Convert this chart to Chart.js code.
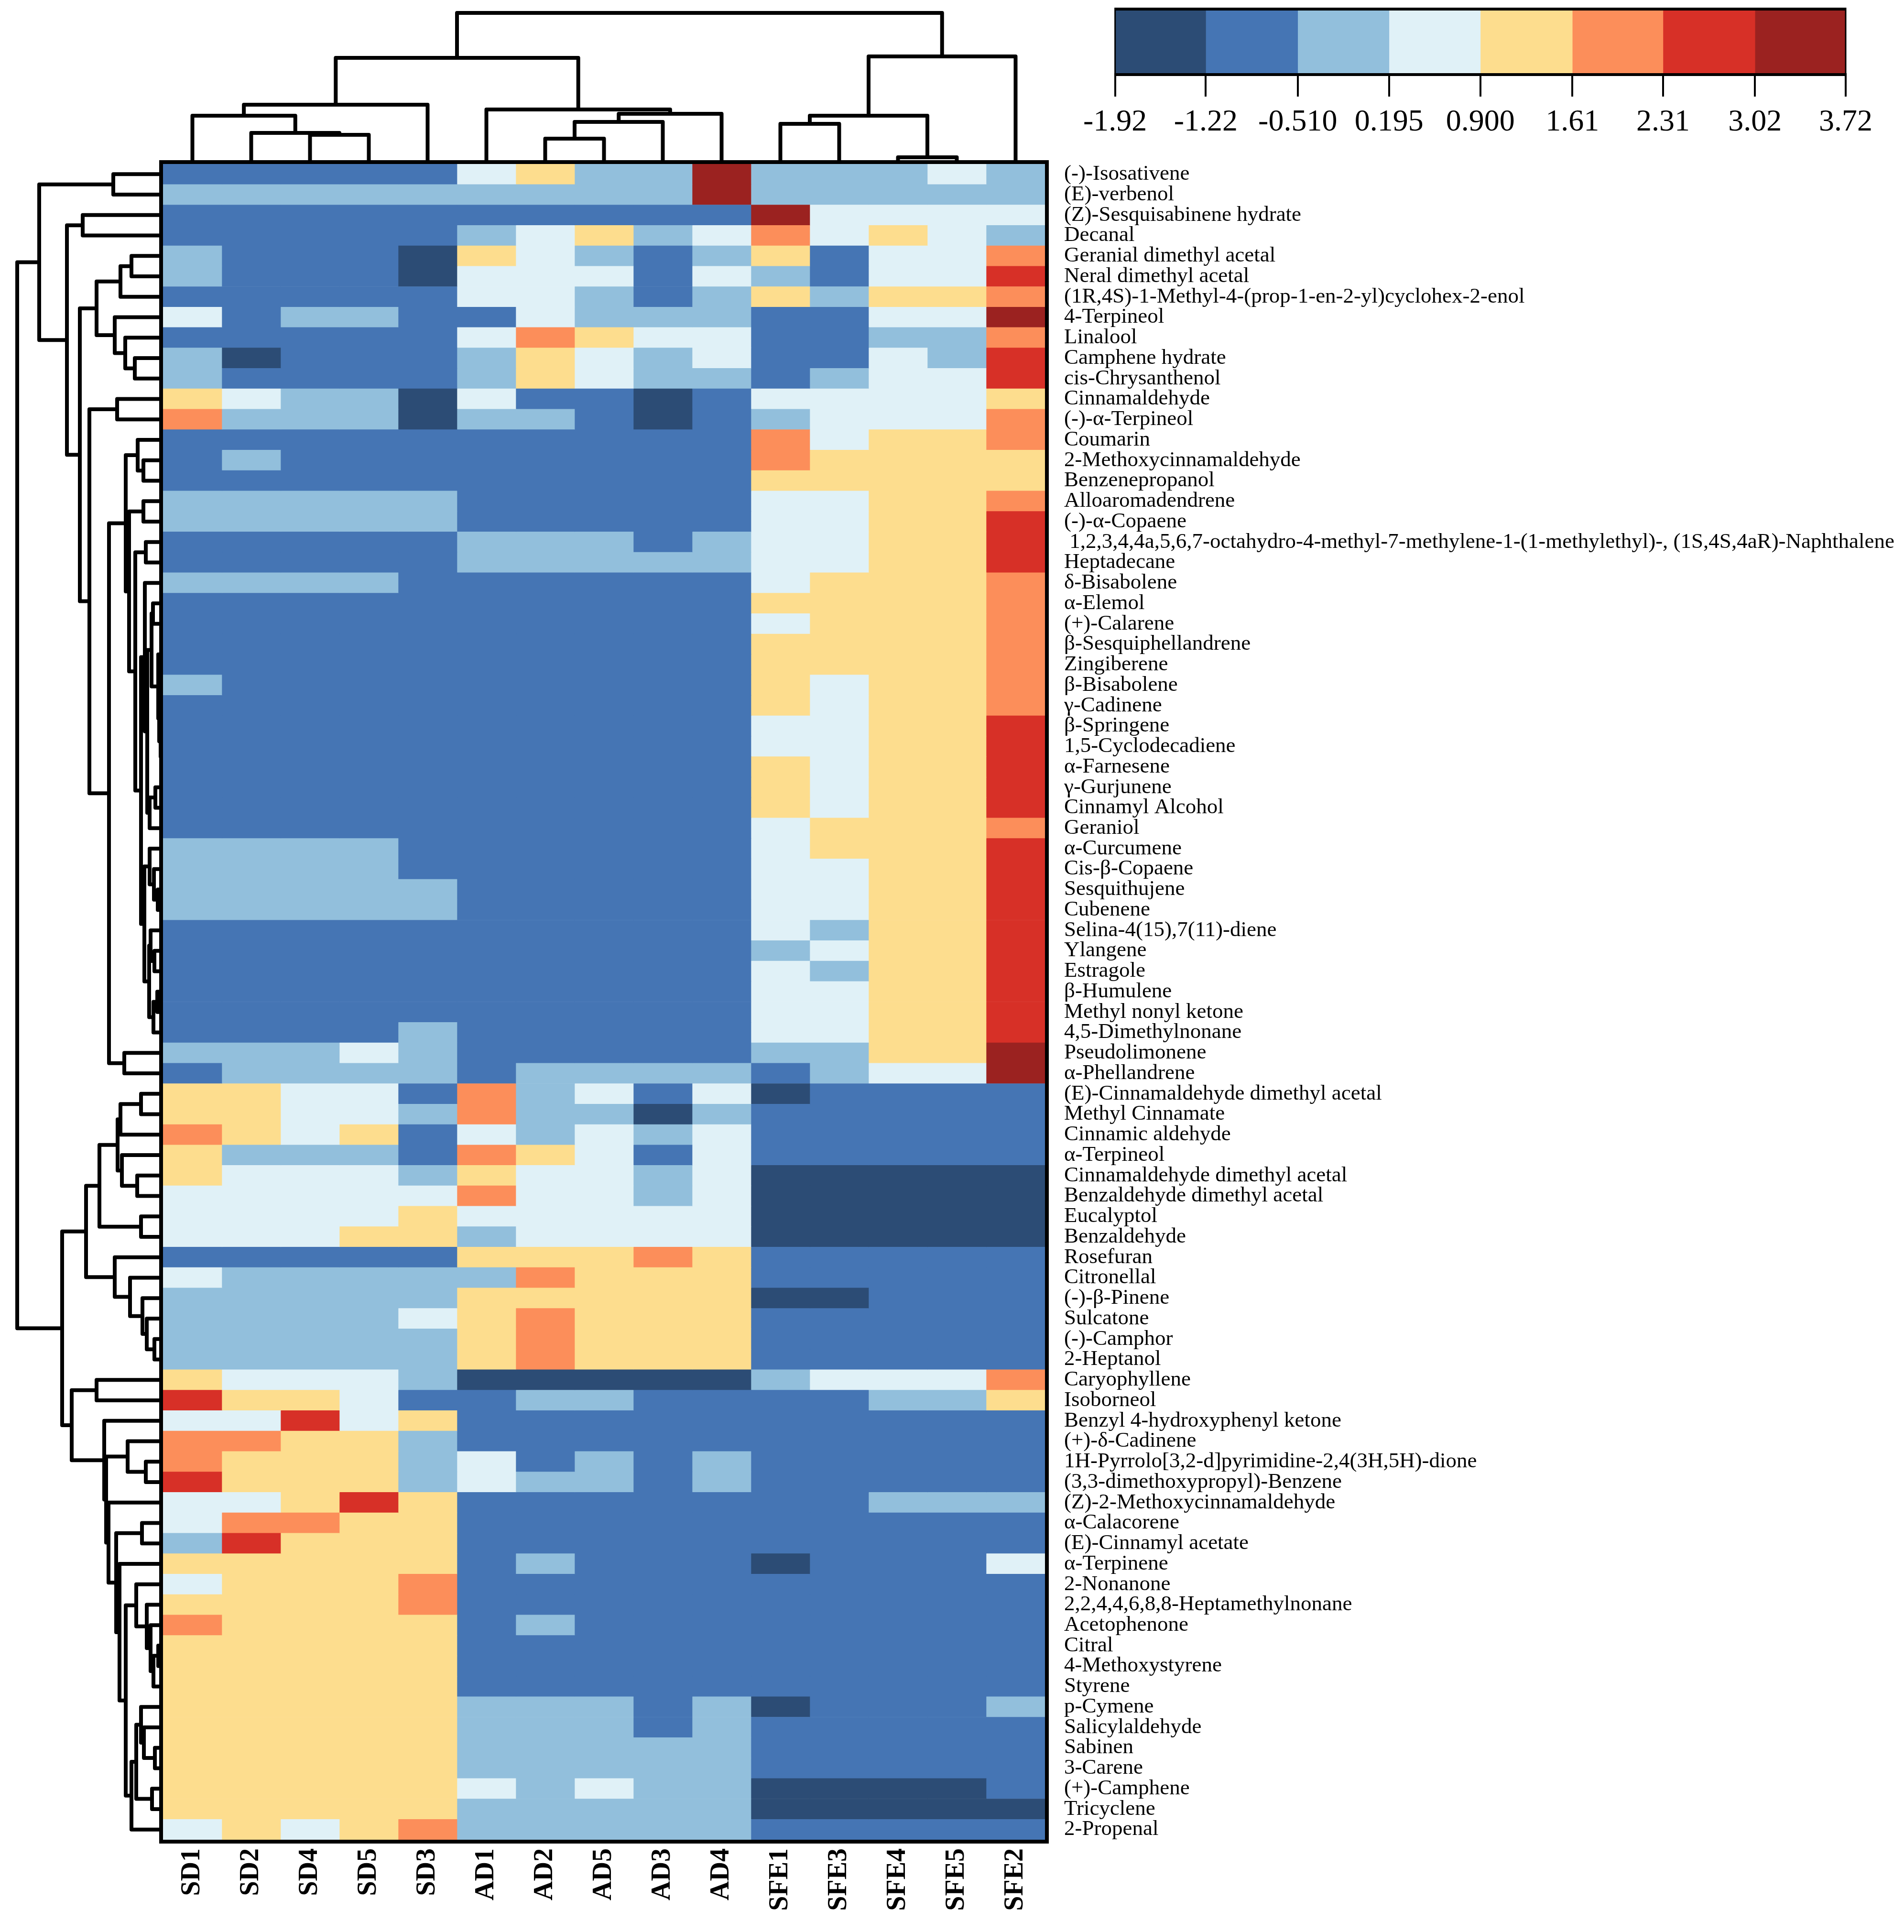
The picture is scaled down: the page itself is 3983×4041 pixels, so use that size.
<!DOCTYPE html>
<html>
<head>
<meta charset="utf-8">
<script src="https://cdn.jsdelivr.net/npm/chart.js@4/dist/chart.umd.min.js"></script>
<style>
  html, body { margin: 0; padding: 0; background: #fff; }
  body { width: 3983px; height: 4041px; position: relative; overflow: hidden; }
  canvas { position: absolute; }
</style>
</head>
<body>
<canvas id="rowTree" width="441" height="3705" style="left:0;top:243px"></canvas>
<canvas id="colTree" width="2045" height="443" style="left:241px;top:0"></canvas>
<canvas id="heat" width="3742" height="3798" style="left:241px;top:243px"></canvas>
<canvas id="key" width="1733" height="420" style="left:2250px;top:0"></canvas>
<script>
var samples = ['SD1', 'SD2', 'SD4', 'SD5', 'SD3', 'AD1', 'AD2', 'AD5', 'AD3', 'AD4',
               'SFE1', 'SFE3', 'SFE4', 'SFE5', 'SFE2'];

var compounds = [
  '(-)-Isosativene', '(E)-verbenol', '(Z)-Sesquisabinene hydrate', 'Decanal',
  'Geranial dimethyl acetal', 'Neral dimethyl acetal',
  '(1R,4S)-1-Methyl-4-(prop-1-en-2-yl)cyclohex-2-enol', '4-Terpineol', 'Linalool',
  'Camphene hydrate', 'cis-Chrysanthenol', 'Cinnamaldehyde', '(-)-α-Terpineol', 'Coumarin',
  '2-Methoxycinnamaldehyde', 'Benzenepropanol', 'Alloaromadendrene', '(-)-α-Copaene',
  ' 1,2,3,4,4a,5,6,7-octahydro-4-methyl-7-methylene-1-(1-methylethyl)-, (1S,4S,4aR)-Naphthalene',
  'Heptadecane', 'δ-Bisabolene', 'α-Elemol', '(+)-Calarene', 'β-Sesquiphellandrene',
  'Zingiberene', 'β-Bisabolene', 'γ-Cadinene', 'β-Springene', '1,5-Cyclodecadiene',
  'α-Farnesene', 'γ-Gurjunene', 'Cinnamyl Alcohol', 'Geraniol', 'α-Curcumene',
  'Cis-β-Copaene', 'Sesquithujene', 'Cubenene', 'Selina-4(15),7(11)-diene', 'Ylangene',
  'Estragole', 'β-Humulene', 'Methyl nonyl ketone', '4,5-Dimethylnonane', 'Pseudolimonene',
  'α-Phellandrene', '(E)-Cinnamaldehyde dimethyl acetal', 'Methyl Cinnamate',
  'Cinnamic aldehyde', 'α-Terpineol', 'Cinnamaldehyde dimethyl acetal',
  'Benzaldehyde dimethyl acetal', 'Eucalyptol', 'Benzaldehyde', 'Rosefuran', 'Citronellal',
  '(-)-β-Pinene', 'Sulcatone', '(-)-Camphor', '2-Heptanol', 'Caryophyllene', 'Isoborneol',
  'Benzyl 4-hydroxyphenyl ketone', '(+)-δ-Cadinene',
  '1H-Pyrrolo[3,2-d]pyrimidine-2,4(3H,5H)-dione', '(3,3-dimethoxypropyl)-Benzene',
  '(Z)-2-Methoxycinnamaldehyde', 'α-Calacorene', '(E)-Cinnamyl acetate', 'α-Terpinene',
  '2-Nonanone', '2,2,4,4,6,8,8-Heptamethylnonane', 'Acetophenone', 'Citral',
  '4-Methoxystyrene', 'Styrene', 'p-Cymene', 'Salicylaldehyde', 'Sabinen', '3-Carene',
  '(+)-Camphene', 'Tricyclene', '2-Propenal'
];

// colour key
var breaks = [-1.92, -1.22, -0.51, 0.195, 0.9, 1.61, 2.31, 3.02, 3.72];
var breakLabels = ['-1.92', '-1.22', '-0.510', '0.195', '0.900', '1.61', '2.31', '3.02', '3.72'];
var palette = ['#2c4c75', '#4575b4', '#92bfdc', '#e0f1f7', '#fddd8e', '#fc8e5a', '#d73027', '#9b2220'];

// class of every cell (index into palette / interval between breaks)
// one row per compound, columns in the order of samples
var cells = [
  [1,1,1,1,1, 3,4,2,2,7, 2,2,2,3,2],
  [2,2,2,2,2, 2,2,2,2,7, 2,2,2,2,2],
  [1,1,1,1,1, 1,1,1,1,1, 7,3,3,3,3],
  [1,1,1,1,1, 2,3,4,2,3, 5,3,4,3,2],
  [2,1,1,1,0, 4,3,2,1,2, 4,1,3,3,5],
  [2,1,1,1,0, 3,3,3,1,3, 2,1,3,3,6],
  [1,1,1,1,1, 3,3,2,1,2, 4,2,4,4,5],
  [3,1,2,2,1, 1,3,2,2,2, 1,1,3,3,7],
  [1,1,1,1,1, 3,5,4,3,3, 1,1,2,2,5],
  [2,0,1,1,1, 2,4,3,2,3, 1,1,3,2,6],
  [2,1,1,1,1, 2,4,3,2,2, 1,2,3,3,6],
  [4,3,2,2,0, 3,1,1,0,1, 3,3,3,3,4],
  [5,2,2,2,0, 2,2,1,0,1, 2,3,3,3,5],
  [1,1,1,1,1, 1,1,1,1,1, 5,3,4,4,5],
  [1,2,1,1,1, 1,1,1,1,1, 5,4,4,4,4],
  [1,1,1,1,1, 1,1,1,1,1, 4,4,4,4,4],
  [2,2,2,2,2, 1,1,1,1,1, 3,3,4,4,5],
  [2,2,2,2,2, 1,1,1,1,1, 3,3,4,4,6],
  [1,1,1,1,1, 2,2,2,1,2, 3,3,4,4,6],
  [1,1,1,1,1, 2,2,2,2,2, 3,3,4,4,6],
  [2,2,2,2,1, 1,1,1,1,1, 3,4,4,4,5],
  [1,1,1,1,1, 1,1,1,1,1, 4,4,4,4,5],
  [1,1,1,1,1, 1,1,1,1,1, 3,4,4,4,5],
  [1,1,1,1,1, 1,1,1,1,1, 4,4,4,4,5],
  [1,1,1,1,1, 1,1,1,1,1, 4,4,4,4,5],
  [2,1,1,1,1, 1,1,1,1,1, 4,3,4,4,5],
  [1,1,1,1,1, 1,1,1,1,1, 4,3,4,4,5],
  [1,1,1,1,1, 1,1,1,1,1, 3,3,4,4,6],
  [1,1,1,1,1, 1,1,1,1,1, 3,3,4,4,6],
  [1,1,1,1,1, 1,1,1,1,1, 4,3,4,4,6],
  [1,1,1,1,1, 1,1,1,1,1, 4,3,4,4,6],
  [1,1,1,1,1, 1,1,1,1,1, 4,3,4,4,6],
  [1,1,1,1,1, 1,1,1,1,1, 3,4,4,4,5],
  [2,2,2,2,1, 1,1,1,1,1, 3,4,4,4,6],
  [2,2,2,2,1, 1,1,1,1,1, 3,3,4,4,6],
  [2,2,2,2,2, 1,1,1,1,1, 3,3,4,4,6],
  [2,2,2,2,2, 1,1,1,1,1, 3,3,4,4,6],
  [1,1,1,1,1, 1,1,1,1,1, 3,2,4,4,6],
  [1,1,1,1,1, 1,1,1,1,1, 2,3,4,4,6],
  [1,1,1,1,1, 1,1,1,1,1, 3,2,4,4,6],
  [1,1,1,1,1, 1,1,1,1,1, 3,3,4,4,6],
  [1,1,1,1,1, 1,1,1,1,1, 3,3,4,4,6],
  [1,1,1,1,2, 1,1,1,1,1, 3,3,4,4,6],
  [2,2,2,3,2, 1,1,1,1,1, 2,2,4,4,7],
  [1,2,2,2,2, 1,2,2,2,2, 1,2,3,3,7],
  [4,4,3,3,1, 5,2,3,1,3, 0,1,1,1,1],
  [4,4,3,3,2, 5,2,2,0,2, 1,1,1,1,1],
  [5,4,3,4,1, 3,2,3,2,3, 1,1,1,1,1],
  [4,2,2,2,1, 5,4,3,1,3, 1,1,1,1,1],
  [4,3,3,3,2, 4,3,3,2,3, 0,0,0,0,0],
  [3,3,3,3,3, 5,3,3,2,3, 0,0,0,0,0],
  [3,3,3,3,4, 3,3,3,3,3, 0,0,0,0,0],
  [3,3,3,4,4, 2,3,3,3,3, 0,0,0,0,0],
  [1,1,1,1,1, 4,4,4,5,4, 1,1,1,1,1],
  [3,2,2,2,2, 2,5,4,4,4, 1,1,1,1,1],
  [2,2,2,2,2, 4,4,4,4,4, 0,0,1,1,1],
  [2,2,2,2,3, 4,5,4,4,4, 1,1,1,1,1],
  [2,2,2,2,2, 4,5,4,4,4, 1,1,1,1,1],
  [2,2,2,2,2, 4,5,4,4,4, 1,1,1,1,1],
  [4,3,3,3,2, 0,0,0,0,0, 2,3,3,3,5],
  [6,4,4,3,1, 1,2,2,1,1, 1,1,2,2,4],
  [3,3,6,3,4, 1,1,1,1,1, 1,1,1,1,1],
  [5,5,4,4,2, 1,1,1,1,1, 1,1,1,1,1],
  [5,4,4,4,2, 3,1,2,1,2, 1,1,1,1,1],
  [6,4,4,4,2, 3,2,2,1,2, 1,1,1,1,1],
  [3,3,4,6,4, 1,1,1,1,1, 1,1,2,2,2],
  [3,5,5,4,4, 1,1,1,1,1, 1,1,1,1,1],
  [2,6,4,4,4, 1,1,1,1,1, 1,1,1,1,1],
  [4,4,4,4,4, 1,2,1,1,1, 0,1,1,1,3],
  [3,4,4,4,5, 1,1,1,1,1, 1,1,1,1,1],
  [4,4,4,4,5, 1,1,1,1,1, 1,1,1,1,1],
  [5,4,4,4,4, 1,2,1,1,1, 1,1,1,1,1],
  [4,4,4,4,4, 1,1,1,1,1, 1,1,1,1,1],
  [4,4,4,4,4, 1,1,1,1,1, 1,1,1,1,1],
  [4,4,4,4,4, 1,1,1,1,1, 1,1,1,1,1],
  [4,4,4,4,4, 2,2,2,1,2, 0,1,1,1,2],
  [4,4,4,4,4, 2,2,2,1,2, 1,1,1,1,1],
  [4,4,4,4,4, 2,2,2,2,2, 1,1,1,1,1],
  [4,4,4,4,4, 2,2,2,2,2, 1,1,1,1,1],
  [4,4,4,4,4, 3,2,3,2,2, 0,0,0,0,1],
  [4,4,4,4,4, 2,2,2,2,2, 0,0,0,0,0],
  [3,4,3,4,5, 2,2,2,2,2, 1,1,1,1,1]
];

// dendrograms: [left, right, merge height]; a plain number is a leaf (index in display order)
var sampleTree = [
  [[[0, [1, [2, 3, 61], 65], 101], 4, 124], [5, [[[6, 7, 53], 8, 88], 9, 105], 114], 222],
  [[[10, 11, 84], [12, 13, 14], 101], 14, 225],
  316];

var rowsQa = [20, [[[21, 22, 21], [[23, 24, 4], [[25, 26, 6], [27, [28, 29, 3], 5], 8], 10], 24],
                   [[30, 31, 16], 32, 28], 33], 38];
var rowsQb = [[33, [34, [35, 36, 11], 19], 28], [[37, [38, 39, 18], 26], [[40, 41, 12], 42, 20], 29], 39];
var rowsG  = [[[4, 5, 66], 6, 89], [7, [8, [9, 10, 59], 79], 101], 139];
var rowsU  = [[13, [14, 15, 41], 53], [[16, 17, 41], [[18, 19, 36], [rowsQa, rowsQb, 46], 58], 71], 78];
var rowsTop = [[0, 1, 104], [[2, 3, 168], [rowsG, [[11, 12, 96], [rowsU, [43, 44, 81], 113], 154], 174], 201], 259];
var rowsP1 = [[[[45, 46, 46], 47, 89], [48, [49, 50, 54], 86], 95], [51, 52, 46], 133];
var rowsP2 = [53, [54, [55, [56, [57, 58, 18], 34], 43], 69], 101];
var rowsC1 = [69, [70, [71, [[72, 73, 10], 74, 20], 26], 34], 56];
var rowsC2 = [[[75, [76, [77, 78, 17], 40], 46], [79, 80, 23], 56], 81, 66];
var rowsO  = [[59, 60, 139], [61, [[62, [63, 64, 36], 74], [65, [[66, 67, 44], [68, [rowsC1, rowsC2, 78], 91], 98], 114], 119], 123], 191];
var compoundTree = [rowsTop, [[rowsP1, rowsP2, 161], rowsO, 211], 305];

var serif = "'Liberation Serif', 'Times New Roman', serif";

function treeLinks(node, out) {
  if (typeof node === 'number') return { pos: node + 0.5, h: 0 };
  var a = treeLinks(node[0], out);
  var b = treeLinks(node[1], out);
  var h = node[2];
  out.push([[a.pos, a.h], [a.pos, h], [b.pos, h], [b.pos, b.h]]);
  return { pos: (a.pos + b.pos) / 2, h: h };
}

function linkSets(node, sideways) {
  var links = [];
  treeLinks(node, links);
  return links.map(function (l) {
    return {
      data: l.map(function (p) { return sideways ? { x: p[1], y: p[0] } : { x: p[0], y: p[1] }; }),
      showLine: true,
      borderColor: '#000',
      borderWidth: 8,
      borderJoinStyle: 'round',
      borderCapStyle: 'round',
      pointRadius: 0,
      clip: false
    };
  });
}

var quiet = { legend: { display: false }, tooltip: { enabled: false } };

// column dendrogram
new Chart(document.getElementById('colTree'), {
  type: 'scatter',
  data: { datasets: linkSets(sampleTree, false) },
  options: {
    responsive: false, animation: false, devicePixelRatio: 1,
    layout: { padding: { left: 100, right: 100, top: 13, bottom: 100 } },
    plugins: quiet,
    scales: {
      x: { type: 'linear', min: 0, max: samples.length, display: false },
      y: { type: 'linear', min: 0, max: 330, display: false }
    }
  }
});

// row dendrogram
new Chart(document.getElementById('rowTree'), {
  type: 'scatter',
  data: { datasets: linkSets(compoundTree, true) },
  options: {
    responsive: false, animation: false, devicePixelRatio: 1,
    layout: { padding: { left: 21, right: 100, top: 100, bottom: 100 } },
    plugins: quiet,
    scales: {
      x: { type: 'linear', min: 0, max: 320, reverse: true, display: false },
      y: { type: 'linear', min: 0, max: compounds.length, reverse: true, display: false }
    }
  }
});

var heatFrame = {
  id: 'heatFrame',
  afterDatasetsDraw: function (chart) {
    var a = chart.chartArea, c = chart.ctx;
    c.save();
    c.strokeStyle = '#000';
    c.lineWidth = 8;
    c.strokeRect(a.left - 4, a.top - 4, a.right - a.left + 8, a.bottom - a.top + 8);
    c.restore();
  }
};

// heatmap: one stacked bar per sample, one row per compound
new Chart(document.getElementById('heat'), {
  type: 'bar',
  data: {
    labels: compounds,
    datasets: samples.map(function (s, j) {
      return {
        label: s,
        data: compounds.map(function () { return 1; }),
        backgroundColor: cells.map(function (row) { return palette[row[j]]; }),
        borderWidth: 0,
        barPercentage: 1,
        categoryPercentage: 1
      };
    })
  },
  options: {
    indexAxis: 'y',
    responsive: false, animation: false, devicePixelRatio: 1,
    layout: { padding: { left: 100, top: 100, right: 0, bottom: 0 } },
    plugins: quiet,
    scales: {
      x: {
        type: 'linear', stacked: true, min: 0, max: samples.length, position: 'bottom',
        grid: { display: false, drawTicks: false }, border: { display: false },
        afterBuildTicks: function (sc) {
          sc.ticks = samples.map(function (s, i) { return { value: i + 0.5 }; });
        },
        afterFit: function (sc) { sc.height = 193; },
        ticks: {
          autoSkip: false, minRotation: 90, maxRotation: 90, padding: 18, color: '#000',
          font: { family: serif, size: 56, weight: 'bold' },
          callback: function (v, i) { return samples[i]; }
        }
      },
      y: {
        type: 'category', stacked: true, position: 'right',
        grid: { display: false, drawTicks: false }, border: { display: false },
        afterFit: function (sc) { sc.width = 1797; },
        ticks: { autoSkip: false, padding: 40, color: '#000', font: { family: serif, size: 45 } }
      }
    }
  },
  plugins: [heatFrame]
});

var keyFrame = {
  id: 'keyFrame',
  afterDatasetsDraw: function (chart) {
    var a = chart.chartArea, c = chart.ctx;
    c.save();
    c.strokeStyle = '#000';
    c.lineWidth = 6;
    c.beginPath();
    c.moveTo(a.left, a.top - 3); c.lineTo(a.right, a.top - 3);
    c.moveTo(a.left, a.bottom + 3); c.lineTo(a.right, a.bottom + 3);
    c.stroke();
    c.lineWidth = 3;
    c.beginPath();
    c.moveTo(a.left, a.top - 6); c.lineTo(a.left, a.bottom + 6);
    c.moveTo(a.right, a.top - 6); c.lineTo(a.right, a.bottom + 6);
    c.stroke();
    c.restore();
  }
};

// colour key
new Chart(document.getElementById('key'), {
  type: 'bar',
  data: {
    labels: [''],
    datasets: palette.map(function (col, k) {
      return {
        data: [[breaks[k], breaks[k + 1]]],
        backgroundColor: col,
        borderWidth: 0,
        barPercentage: 1,
        categoryPercentage: 1,
        grouped: false
      };
    })
  },
  options: {
    indexAxis: 'y',
    responsive: false, animation: false, devicePixelRatio: 1,
    layout: { padding: { left: 72, right: 122, top: 22, bottom: 117 } },
    plugins: quiet,
    scales: {
      x: {
        type: 'linear', min: breaks[0], max: breaks[breaks.length - 1], position: 'bottom',
        grid: { drawOnChartArea: false, drawTicks: true, tickLength: 49, lineWidth: 4, color: '#000' },
        border: { display: false },
        afterBuildTicks: function (sc) {
          sc.ticks = breaks.map(function (v) { return { value: v }; });
        },
        afterFit: function (sc) { sc.height = 150; },
        ticks: {
          autoSkip: false, minRotation: 0, maxRotation: 0, padding: 16, color: '#000',
          font: { family: serif, size: 64 },
          callback: function (v, i) { return breakLabels[i]; }
        }
      },
      y: { display: false }
    }
  },
  plugins: [keyFrame]
});
</script>
</body>
</html>
